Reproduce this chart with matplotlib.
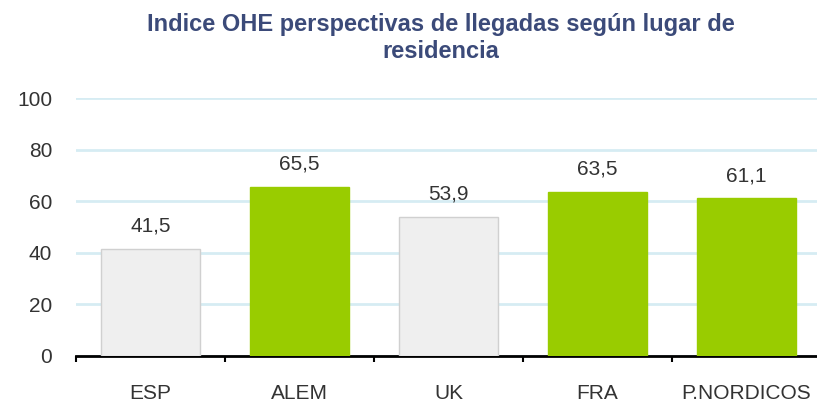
import numpy as np
import matplotlib.pyplot as plt

plt.rcParams['font.family'] = ['Liberation Sans', 'DejaVu Sans']

categorias = ['ESP', 'ALEM', 'UK', 'FRA', 'P.NORDICOS']
valores = [41.5, 65.5, 53.9, 63.5, 61.1]
colores = ['#efefef', '#99cc00', '#efefef', '#99cc00', '#99cc00']
bordes = ['#d0d0d0', '#99cc00', '#d0d0d0', '#99cc00', '#99cc00']

fig = plt.figure(figsize=(8.17, 4.04), dpi=100)
ax = fig.add_axes([0.093, 0.119, 0.912, 0.638])

x = np.arange(len(categorias))
ax.bar(x, valores, width=0.665, color=colores, edgecolor=bordes, linewidth=1, zorder=3)

# etiquetas de valor con coma decimal
for xi, v in zip(x, valores):
    ax.text(xi, v + 5.2, f"{v:.1f}".replace('.', ','), ha='center', va='bottom',
            fontsize=15, color='#333333')

ax.set_xlim(-0.5, len(categorias) - 0.5)
ax.set_ylim(0, 100)
ax.set_yticks(np.arange(0, 101, 20))
ax.yaxis.grid(True, color='#d6ecf3', linewidth=2)
ax.set_axisbelow(True)

ax.set_xticks(x)
ax.set_xticklabels(categorias, fontsize=15, color='#333333')
ax.set_xticks(np.arange(-0.5, len(categorias)), minor=True)
ax.tick_params(axis='x', which='major', length=0, pad=20)
ax.tick_params(axis='x', which='minor', length=4, width=1.5, direction='out', color='black')
ax.tick_params(axis='y', length=0, labelsize=15, labelcolor='#333333', pad=17)

for s in ['top', 'right', 'left']:
    ax.spines[s].set_visible(False)
ax.spines['bottom'].set_linewidth(2)
ax.spines['bottom'].set_color('black')

fig.text(0.540, 0.906, "Indice OHE perspectivas de llegadas según lugar de\nresidencia",
         ha='center', va='center', fontsize=17, fontweight='bold', color='#3b4a79',
         linespacing=1.2)

fig.savefig('out.png', dpi=100)
